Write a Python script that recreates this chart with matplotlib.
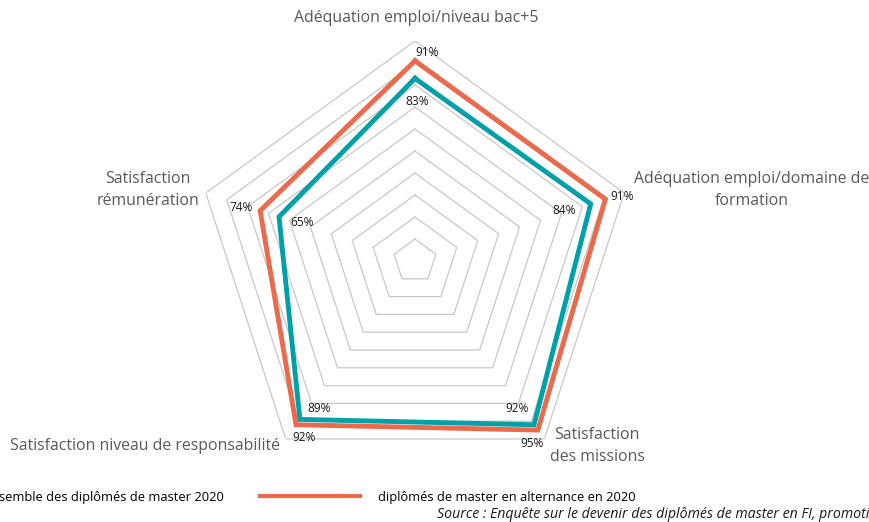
import numpy as np
import matplotlib
matplotlib.use('Agg')
import matplotlib.pyplot as plt
from matplotlib.lines import Line2D

categories = [
    'Adéquation emploi/niveau bac+5',
    'Adéquation emploi/domaine de\nformation',
    'Satisfaction\ndes missions',
    'Satisfaction niveau de responsabilité',
    'Satisfaction\nrémunération',
]
ensemble = [83, 84, 92, 89, 65]
alternance = [91, 91, 95, 92, 74]
series_names = ['Ensemble des diplômés de master 2020',
                'diplômés de master en alternance en 2020']
source = 'Source : Enquête sur le devenir des diplômés de master en FI, promotion 2020'

TEAL = '#00A0A8'
ORANGE = '#EC6A4C'
GRID = '#C8C8C8'
LABEL = '#595959'

plt.rcParams['font.family'] = ['Open Sans', 'DejaVu Sans']

W, H = 870, 522
fig = plt.figure(figsize=(W / 100, H / 100), dpi=100)

cx, cy, rad = 415, 261, 220
ax = fig.add_axes([(cx - rad) / W, (H - cy - rad) / H, 2 * rad / W, 2 * rad / H],
                  projection='polar')
ax.set_theta_zero_location('N')
ax.set_theta_direction(-1)
ax.set_ylim(0, 100)
ax.grid(False)
ax.spines['polar'].set_visible(False)
ax.set_xticks([])
ax.set_yticks([])
ax.patch.set_alpha(0)

angles = np.linspace(0, 2 * np.pi, len(categories), endpoint=False)
closed = np.append(angles, angles[0])

for r in range(10, 101, 10):
    ax.plot(closed, [r] * len(closed), color=GRID, lw=0.9, zorder=1)

ax.plot(closed, alternance + alternance[:1], color=ORANGE, lw=3.5, zorder=2,
        solid_joinstyle='miter')
ax.plot(closed, ensemble + ensemble[:1], color=TEAL, lw=3.5, zorder=3,
        solid_joinstyle='miter')

# offsets in points for the value labels
ens_off = [(1.5, -16.5), (-19, -5), (-12, 12), (14, 8), (17, -4)]
alt_off = [(9, 6), (12, 2), (-4, -9.5), (6, -9), (-14, 2)]
for a, v, off in zip(angles, ensemble, ens_off):
    ax.annotate(f'{v}%', (a, v), xytext=off, textcoords='offset points',
                ha='center', va='center', fontsize=8.6, color='#1a1a1a')
for a, v, off in zip(angles, alternance, alt_off):
    ax.annotate(f'{v}%', (a, v), xytext=off, textcoords='offset points',
                ha='center', va='center', fontsize=8.6, color='#1a1a1a')

# category labels (pixel positions from top-left)
cat_pos = [(416, 18, 'center'), (752, 190, 'center'), (597, 446, 'center'),
           (280, 446, 'right'), (148, 190, 'center')]
for name, (x, y, ha) in zip(categories, cat_pos):
    fig.text(x / W, 1 - y / H, name, ha=ha, va='center', fontsize=11.4,
             color=LABEL, linespacing=1.45)

handles = [Line2D([], [], color=TEAL, lw=3), Line2D([], [], color=ORANGE, lw=3)]
fig.legend(handles, series_names, loc='center left', ncol=2,
           bbox_to_anchor=(-146 / W, 1 - 497 / H), frameon=False,
           fontsize=9.3, handlelength=7.75, handletextpad=1.4, columnspacing=2.8)

fig.text(437 / W, 1 - 515 / H, source, ha='left', va='center', fontsize=10.2,
         style='italic', color='#1a1a1a')

fig.savefig('out.png', dpi=100)
